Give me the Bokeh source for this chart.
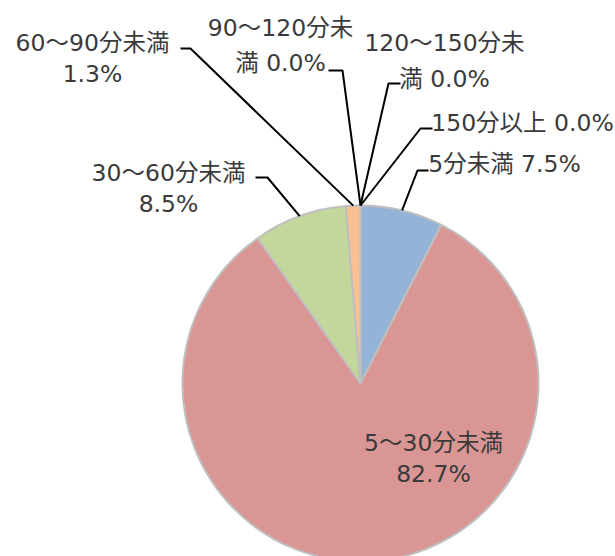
import numpy as np
from bokeh.plotting import figure
from bokeh.models import Range1d, ColumnDataSource
from bokeh.core.properties import value
from bokeh.embed import file_html
from bokeh.resources import INLINE

# ---- data ----
categories = ["5分未満", "5〜30分未満", "30〜60分未満", "60〜90分未満",
              "90〜120分未満", "120〜150分未満", "150分以上"]
shares = [7.5, 82.7, 8.5, 1.3, 0.0, 0.0, 0.0]

# ---- styling / layout ----
colors = ["#95B3D7", "#D99694", "#C3D69B", "#FAC090", "#B2A1C7", "#93CDDD", "#F79646"]
W, H = 615, 556
CX, CY, R = 360, 383, 178          # pie centre / radius in pixels (y from top)
# where each label is wrapped (character index in "cat pct" string); None = one line
wrap_at = [None, "space", "space", "space", 8, 9, None]
label_x = [504, 433, 168, 92, 280, 444, 522]
label_y = [163, 442, 172, 42, 27, 42, 122]
line_gap = [31, 31, 31, 31, 35, 36, 31]
# leader stubs: (outer x, inner x, y) ; None = label inside slice
stubs = [(428, 417, 170), None, (255, 267, 177), (180, 190, 48),
         (328, 342, 70), (400, 388, 83), (432, 420, 128)]

FONT = value("DejaVu Sans, Noto Sans CJK JP")
TEXT_COLOR = "#3A3A3A"

def fy(y):
    return H - y

p = figure(width=W, height=H, output_backend="svg", toolbar_location=None,
           x_range=Range1d(0, W), y_range=Range1d(0, H),
           min_border=0, outline_line_color=None, background_fill_color="white",
           border_fill_color="white")
p.xaxis.visible = False
p.yaxis.visible = False
p.grid.visible = False

vals = np.array(shares, dtype=float)
frac = vals / vals.sum()
cum_end = np.cumsum(frac)
cum_start = cum_end - frac
start_ang = np.pi / 2 - cum_start * 2 * np.pi
end_ang = np.pi / 2 - cum_end * 2 * np.pi

mask = vals > 0
src = ColumnDataSource(dict(
    start=list(start_ang[mask]), end=list(end_ang[mask]),
    color=[c for c, m in zip(colors, mask) if m],
    cat=[c for c, m in zip(categories, mask) if m],
))
p.wedge(x=CX, y=fy(CY), radius=R, start_angle="start", end_angle="end",
        direction="clock", fill_color="color", line_color="#BFBFBF",
        line_width=2, source=src)

# leader lines
mid = (cum_start + cum_end) / 2 * 2 * np.pi
for i, st in enumerate(stubs):
    if st is None:
        continue
    ex = CX + R * np.sin(mid[i])
    ey = CY - R * np.cos(mid[i])
    xs = [st[0], st[1], ex]
    ys = [fy(st[2]), fy(st[2]), fy(ey)]
    p.line(xs, ys, line_color="#000000", line_width=2)

# labels
tx, ty, tt = [], [], []
for i, (cat, v) in enumerate(zip(categories, shares)):
    pct = f"{v:.1f}%"
    w = wrap_at[i]
    if w is None:
        lines = [f"{cat} {pct}"]
    elif w == "space":
        lines = [cat, pct]
    else:
        full = f"{cat} {pct}"
        lines = [full[:w], full[w:]]
    for k, ln in enumerate(lines):
        tx.append(label_x[i])
        ty.append(fy(label_y[i] + k * line_gap[i]))
        tt.append(ln)

p.text(x=tx, y=ty, text=tt, text_align="center", text_baseline="middle",
       text_font=FONT, text_font_size="23.5px", text_color=TEXT_COLOR)

open("out.html", "w").write(file_html(p, INLINE))
